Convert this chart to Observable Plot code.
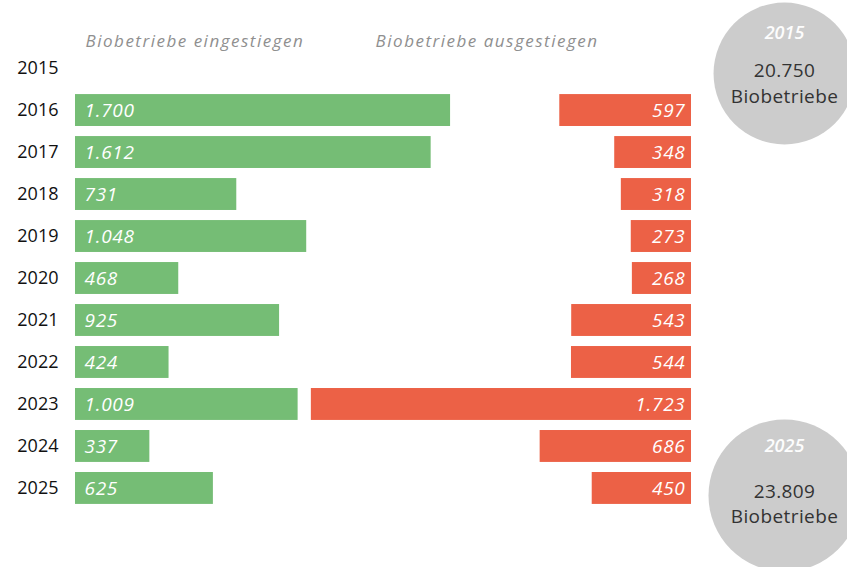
<!DOCTYPE html>
<html>
<head>
<meta charset="utf-8">
<script src="https://cdn.jsdelivr.net/npm/d3@7"></script>
<script src="https://cdn.jsdelivr.net/npm/@observablehq/plot@0.6"></script>
<style>
  html, body { margin: 0; padding: 0; background: #fff; }
  svg { font-family: "Open Sans", Lato, sans-serif; }
  g[fill="#8f8f8f"] text { letter-spacing: 1.5px; }
  g[fill="#ffffff"] text { letter-spacing: 0.7px; }
  g[fill="#333333"] text { letter-spacing: 0.4px; }
</style>
</head>
<body>
<div id="chart"></div>
<script>
const years = ["2015","2016","2017","2018","2019","2020","2021","2022","2023","2024","2025"];
const eingestiegen = [null, 1700, 1612, 731, 1048, 468, 925, 424, 1009, 337, 625];
const ausgestiegen = [null, 597, 348, 318, 273, 268, 543, 544, 1723, 686, 450];
const circleYears = ["2015", "2025"];
const circleTotals = [20750, 23809];
const circleLabel = "Biobetriebe";
const headers = ["Biobetriebe eingestiegen", "Biobetriebe ausgestiegen"];

const xMax = 2792;
const de = d3.formatLocale({decimal: ",", thousands: ".", grouping: [3], currency: ["", " €"]});
const fmt = de.format(",d");

const rows = years.map((y, i) => ({year: y, ein: eingestiegen[i], aus: ausgestiegen[i]}))
  .filter(d => d.ein != null);
const circles = circleYears.map((y, i) => ({year: y, total: circleTotals[i]}));
const cTop = [circles[0]];
const cBot = [circles[1]];

const green = "#75bd75";
const red = "#ec6146";
const font = "'Open Sans', Lato, sans-serif";

function circleMarks(data, dyC, dyYear, dyNum, dyLab) {
  const common = {y: "year", frameAnchor: "right", dx: 93, textAnchor: "middle"};
  return [
    Plot.dot(data, {y: "year", r: "total", frameAnchor: "right", dx: 93, dy: dyC, fill: "#cccccc"}),
    Plot.text(data, {...common, text: "year", dy: dyYear, fill: "#fdfdfd", fontSize: 18, fontStyle: "italic", fontWeight: 600}),
    Plot.text(data, {...common, text: d => fmt(d.total), dy: dyNum, fill: "#333333", fontSize: 19}),
    Plot.text(data, {...common, text: () => circleLabel, dy: dyLab, fill: "#333333", fontSize: 19})
  ];
}

const chart = Plot.plot({
  width: 847,
  height: 567,
  marginLeft: 75,
  marginRight: 156,
  marginTop: 42,
  marginBottom: 53,
  style: {fontFamily: font, overflow: "hidden"},
  x: {domain: [0, xMax], axis: null},
  y: {domain: years, padding: 0.24, round: false, axis: null},
  r: {domain: [0, 23809], range: [0, 76]},
  marks: [
    Plot.axisY({tickSize: 0, tickPadding: 17, fontSize: 18, fill: "#111", label: null}),
    Plot.barX(rows, {x1: 0, x2: "ein", y: "year", fill: green}),
    Plot.barX(rows, {x1: d => xMax - d.aus, x2: xMax, y: "year", fill: red}),
    Plot.text(rows, {x: 0, y: "year", text: d => fmt(d.ein), textAnchor: "start", dx: 9, fill: "#ffffff", fontSize: 19, fontStyle: "italic"}),
    Plot.text(rows, {x: xMax, y: "year", text: d => fmt(d.aus), textAnchor: "end", dx: -6, fill: "#ffffff", fontSize: 19, fontStyle: "italic"}),
    Plot.text([headers[0]], {frameAnchor: "top-left", dx: 10, dy: -8, textAnchor: "start", fill: "#8f8f8f", fontSize: 17, fontStyle: "italic"}),
    Plot.text([headers[1]], {frameAnchor: "top-right", dx: -93, dy: -8, textAnchor: "end", fill: "#8f8f8f", fontSize: 17, fontStyle: "italic"}),
    ...circleMarks(cTop, 5, -35, 2, 28),
    ...circleMarks(cBot, 7, -42, 3, 28)
  ]
});
document.getElementById("chart").appendChild(chart);
</script>
</body>
</html>
